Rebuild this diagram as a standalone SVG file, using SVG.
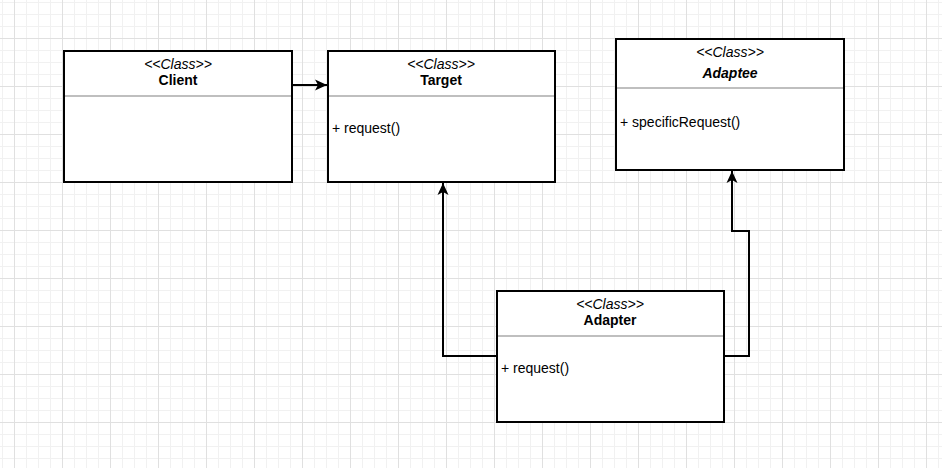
<svg xmlns="http://www.w3.org/2000/svg" width="942" height="468" viewBox="0 0 942 468">
<defs>
<pattern id="minor" width="12" height="12" patternUnits="userSpaceOnUse" x="2" y="2">
<path d="M0.5 0V12M0 0.5H12" fill="none" stroke="#f1f1f1" stroke-width="1"/>
</pattern>
<pattern id="major" width="48" height="48" patternUnits="userSpaceOnUse" x="14" y="38">
<path d="M0.5 0V48M0 0.5H48" fill="none" stroke="#e0e0e0" stroke-width="1"/>
</pattern>
<marker id="arr" viewBox="0 0 12 12" refX="12" refY="6" markerWidth="12" markerHeight="12" markerUnits="userSpaceOnUse" orient="auto">
<path d="M0 0.5L12 6L0 11.5L3 6Z" fill="#000"/>
</marker>
</defs>
<style>
.box{fill:#fff;stroke:#000;stroke-width:2}
.div{stroke:#aaa;stroke-width:1.5}
.st{font-family:"Liberation Sans",Arial,sans-serif;font-size:14px;font-style:italic;text-anchor:middle;fill:#000}
.nm{font-family:"Liberation Sans",Arial,sans-serif;font-size:14px;font-weight:bold;text-anchor:middle;fill:#000}
.op{font-family:"Liberation Sans",Arial,sans-serif;font-size:14px;fill:#000}
.edge{fill:none;stroke:#000;stroke-width:2}
</style>
<rect width="942" height="468" fill="#fff"/>
<rect width="942" height="468" fill="url(#minor)"/>
<rect width="942" height="468" fill="url(#major)"/>
<g id="connectors">
<path class="edge" d="M292 85H327" marker-end="url(#arr)"/>
<path class="edge" d="M497 356H443V183" marker-end="url(#arr)"/>
<path class="edge" d="M724 356H749V231H732V171" marker-end="url(#arr)"/>
</g>
<g id="client">
<rect class="box" x="64" y="51" width="228" height="131"/>
<line class="div" x1="65" y1="96" x2="291" y2="96"/>
<text class="st" x="178" y="69">&lt;&lt;Class&gt;&gt;</text>
<text class="nm" x="178" y="85">Client</text>
</g>
<g id="target">
<rect class="box" x="328" y="51" width="227" height="131"/>
<line class="div" x1="329" y1="96" x2="554" y2="96"/>
<text class="st" x="441" y="69">&lt;&lt;Class&gt;&gt;</text>
<text class="nm" x="441" y="85">Target</text>
<text class="op" x="332" y="133">+ request()</text>
</g>
<g id="adaptee">
<rect class="box" x="616" y="39" width="228" height="131"/>
<line class="div" x1="617" y1="88" x2="843" y2="88"/>
<text class="st" x="730" y="57">&lt;&lt;Class&gt;&gt;</text>
<text class="nm" x="730" y="78" font-style="italic">Adaptee</text>
<text class="op" x="620" y="127">+ specificRequest()</text>
</g>
<g id="adapter">
<rect class="box" x="497" y="291" width="227" height="131"/>
<line class="div" x1="498" y1="336" x2="723" y2="336"/>
<text class="st" x="610" y="309">&lt;&lt;Class&gt;&gt;</text>
<text class="nm" x="610" y="325">Adapter</text>
<text class="op" x="501" y="373">+ request()</text>
</g>
</svg>
